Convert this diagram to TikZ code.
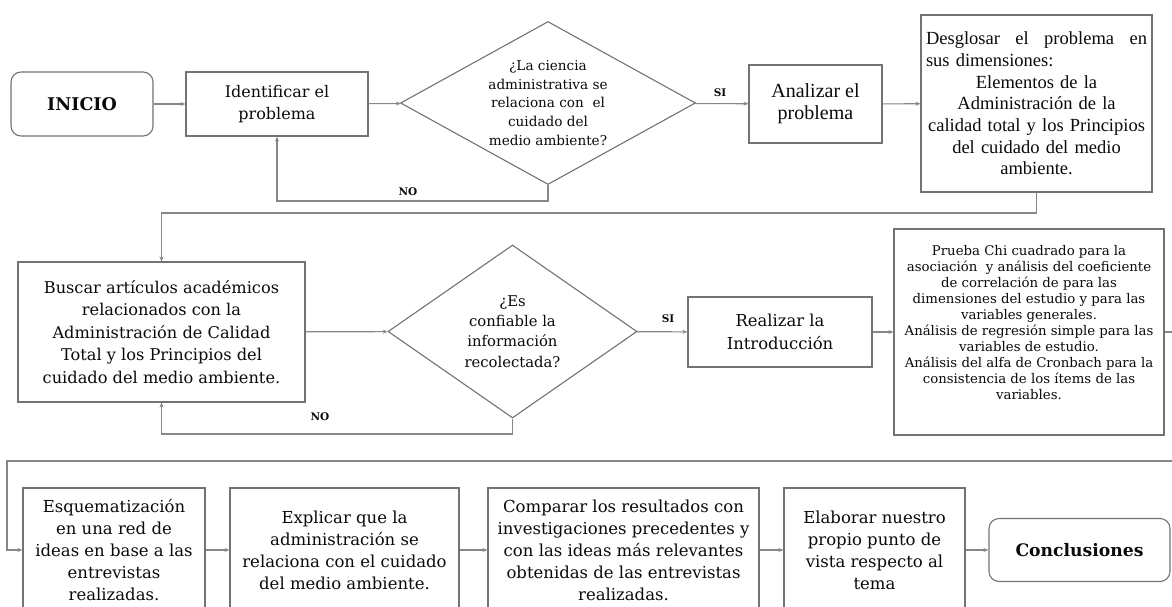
\documentclass[tikz,border=0pt]{standalone}
\usepackage{fontspec}
\setmainfont{DejaVu Serif}
\newfontfamily\tnr{Liberation Serif}
\usetikzlibrary{shapes.geometric,arrows.meta}
\definecolor{edge}{RGB}{115,115,115}
\definecolor{wire}{RGB}{135,135,135}
\definecolor{ink}{RGB}{10,10,10}
\newcommand\fs[2]{\fontsize{#1}{#2}\selectfont}

\begin{document}
\begin{tikzpicture}[x=1pt,y=-1pt,
  every node/.style={text=ink},
  stepbox/.style={draw=edge,line width=1.1pt,fill=white,inner sep=0pt,align=center},
  termbox/.style={stepbox,rounded corners=10pt},
  decision/.style={stepbox,shape=diamond},
  conn/.style={draw=wire,line width=1.1pt,-{Stealth[length=5pt,width=4pt]}},
  lbl/.style={font=\bfseries\fs{10.5}{12},inner sep=0pt}]
\useasboundingbox[fill=white] (0,0) rectangle (1172,607);

% ---- first row
\node[termbox,minimum width=142pt,minimum height=64pt,font=\bfseries\fs{17.5}{20}]
  (inicio) at (82,104) {INICIO};
\node[stepbox,minimum width=182pt,minimum height=64pt,font=\fs{16}{22}]
  (ident) at (277,104) {Identificar el\\problema};
\node[decision,aspect=1.81,minimum width=295pt,minimum height=163pt,font=\fs{13.6}{18.7}]
  (d1) at (548,103) {¿La ciencia\\administrativa se\\relaciona con\ \ el\\cuidado del\\medio ambiente?};
\node[stepbox,minimum width=133pt,minimum height=78pt,font=\tnr\fs{20}{22}]
  (analizar) at (815.5,104) {Analizar el\\problema};
\node[stepbox,text width=221pt,minimum width=231pt,minimum height=177pt,font=\tnr\fs{18.5}{21.7}]
  (desglosar) at (1036.5,103.5)
  {\makebox[\linewidth]{Desglosar\hfill el\hfill problema\hfill en}\\
   \makebox[\linewidth][l]{sus dimensiones:}\\
   Elementos de la\\Administración de la\\calidad total y los Principios\\
   del cuidado del medio\\ambiente.};

% ---- second row
\node[stepbox,minimum width=287pt,minimum height=140pt,font=\fs{16.2}{22.5}]
  (buscar) at (161.5,332) {Buscar artículos académicos\\relacionados con la\\Administración de Calidad\\Total y los Principios del\\cuidado del medio ambiente.};
\node[decision,aspect=1.44,minimum width=249pt,minimum height=173pt,font=\fs{14.8}{20.3}]
  (d2) at (512.5,331.5) {¿Es\\confiable la\\información\\recolectada?};
\node[stepbox,minimum width=184pt,minimum height=70pt,font=\fs{16.4}{23}]
  (realizar) at (780,332) {Realizar la\\Introducción};
% the text block sits a little above the middle of this box
\node[stepbox,minimum width=270pt,minimum height=206pt,font=\fs{13.3}{16}]
  (prueba) at (1029,332) {Prueba Chi cuadrado para la\\asociación\ \ y análisis del coeficiente\\de correlación de para las\\dimensiones del estudio y para las\\variables generales.\\Análisis de regresión simple para las\\variables de estudio.\\Análisis del alfa de Cronbach para la\\consistencia de los ítems de las\\variables.\\[4pt]\mbox{}};

% ---- third row
\node[stepbox,minimum width=182pt,minimum height=124pt,font=\fs{16.5}{22}]
  (esq) at (114,550) {Esquematización\\en una red de\\ideas en base a las\\entrevistas\\realizadas.};
\node[stepbox,minimum width=229pt,minimum height=124pt,font=\fs{16.5}{22}]
  (explicar) at (344.5,550) {Explicar que la\\administración se\\relaciona con el cuidado\\del medio ambiente.};
\node[stepbox,minimum width=271pt,minimum height=124pt,font=\fs{16.5}{22}]
  (comparar) at (623.5,550) {Comparar los resultados con\\investigaciones precedentes y\\con las ideas más relevantes\\obtenidas de las entrevistas\\realizadas.};
\node[stepbox,minimum width=181pt,minimum height=124pt,font=\fs{16.5}{22}]
  (elaborar) at (874.5,550) {Elaborar nuestro\\propio punto de\\vista respecto al\\tema};
\node[termbox,minimum width=181pt,minimum height=63pt,font=\bfseries\fs{17.2}{20}]
  (concl) at (1079.5,550) {Conclusiones};

% ---- answer labels
\node[lbl] (si1) at (720,93) {SI};
\node[lbl] (no1) at (408,192) {NO};
\node[lbl] (si2) at (668,319) {SI};
\node[lbl] (no2) at (320,417) {NO};

% ---- loop-back and turn points
\coordinate (back1) at (548,201);
\coordinate (turn1) at (1036.5,213);
\coordinate (back2) at (512.5,434);
\coordinate (far) at (1190,461);
\coordinate (near) at (7,461);

% ---- connectors
\draw[conn] (inicio) -- (ident);
\draw[conn] (ident) -- (d1);
\draw[conn] (d1) -- (analizar);
\draw[conn] (d1.south) -- (back1) -| (ident.south);
\draw[conn] (analizar) -- (desglosar);
\draw[conn] (desglosar.south) -- (turn1) -| (buscar.north);
\draw[conn] (buscar) -- (d2);
\draw[conn] (d2) -- (realizar);
\draw[conn] (d2.south) -- (back2) -| (buscar.south);
\draw[conn] (realizar) -- (prueba);
\draw[conn] (prueba.east) -| (far) -- (near) |- (esq.west);
\draw[conn] (esq) -- (explicar);
\draw[conn] (explicar) -- (comparar);
\draw[conn] (comparar) -- (elaborar);
\draw[conn] (elaborar) -- (concl);
\end{tikzpicture}
\end{document}
